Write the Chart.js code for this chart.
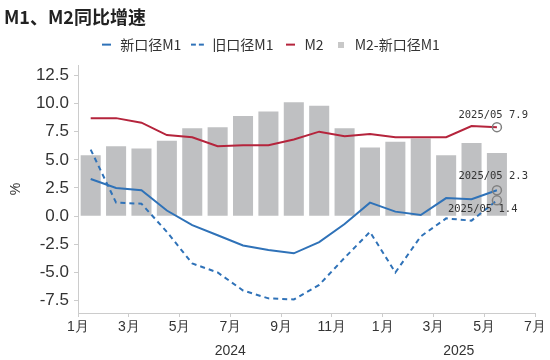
<!DOCTYPE html>
<html><head><meta charset="utf-8">
<script src="https://cdn.jsdelivr.net/npm/chart.js@4.4.0/dist/chart.umd.min.js"></script>
<style>html,body{margin:0;padding:0;background:#fff}#wrap{width:550px;height:360px}</style>
</head><body><div id="wrap"><canvas id="c"></canvas></div>
<script>
const months = ["2024-01","2024-02","2024-03","2024-04","2024-05","2024-06","2024-07","2024-08","2024-09","2024-10","2024-11","2024-12","2025-01","2025-02","2025-03","2025-04","2025-05"];
const newM1 = [3.3,2.5,2.3,0.5,-0.8,-1.7,-2.6,-3.0,-3.3,-2.3,-0.7,1.2,0.4,0.1,1.6,1.5,2.3];
const oldM1 = [5.9,1.2,1.1,-1.4,-4.2,-5.0,-6.6,-7.3,-7.4,-6.1,-3.7,-1.4,-5.0,-1.8,-0.2,-0.4,1.4];
const m2 = [8.7,8.7,8.3,7.2,7.0,6.2,6.3,6.3,6.8,7.5,7.1,7.3,7.0,7.0,7.0,8.0,7.9];
const spread = [5.4,6.2,6.0,6.7,7.8,7.9,8.9,9.3,10.1,9.8,7.8,6.1,6.6,6.9,5.4,6.5,5.6];
const xTickLabels = ["1月","3月","5月","7月","9月","11月","1月","3月","5月","7月"];
const yTickValues = [-7.5,-5.0,-2.5,0.0,2.5,5.0,7.5,10.0,12.5];
const years = [{text:"2024", from:"2024-01", to:"2025-01"},{text:"2025", from:"2025-01", to:"2025-07"}];
const annoText = {m2:"2025/05 7.9", newM1:"2025/05 2.3", oldM1:"2025/05 1.4"};

const BLUE = '#2f72b8', RED = '#b5243c', GRAY = '#bfc0c2';
const monthIndex = m => { const [y, mo] = m.split('-').map(Number); return (y - 2024) * 12 + (mo - 1); };
const pts = arr => arr.map((v, i) => ({x: monthIndex(months[i]) + 0.5, y: v}));
const last = arr => (ctx) => ctx.dataIndex === arr.length - 1 ? 4.5 : 0;

function icon(kind, color) {
  const c = document.createElement('canvas');
  if (kind === 'rect') { c.width = 6; c.height = 6; const g = c.getContext('2d'); g.fillStyle = color; g.fillRect(0,0,6,6); return c; }
  c.width = kind === 'dash' ? 15 : 9; c.height = 4;
  const g = c.getContext('2d'); g.strokeStyle = color; g.lineWidth = 2;
  if (kind === 'dash') g.setLineDash([5,3]);
  g.beginPath(); g.moveTo(0,2); g.lineTo(c.width,2); g.stroke();
  return c;
}

const annoPlugin = {
  id: 'anno',
  afterDatasetsDraw(chart) {
    const g = chart.ctx;
    g.save();
    g.font = '10.5px "DejaVu Sans Mono"';
    g.fillStyle = '#333';
    g.textBaseline = 'middle';
    chart.data.datasets.forEach((ds, di) => {
      if (!ds.anno) return;
      const meta = chart.getDatasetMeta(di);
      const el = meta.data[meta.data.length - 1];
      g.fillText(annoText[ds.anno], el.x + ds.annoDx, el.y + ds.annoDy);
    });
    const xs = chart.scales.x;
    g.font = '14px "Liberation Sans"';
    g.textAlign = 'center';
    g.fillStyle = '#333';
    years.forEach(y => {
      const a = xs.getPixelForValue(monthIndex(y.from)), b = xs.getPixelForValue(monthIndex(y.to));
      g.fillText(y.text, (a + b) / 2, 351);
    });
    g.restore();
  }
};

new Chart(document.getElementById('c'), {
  type: 'bar',
  data: {
    datasets: [
      {type:'line', label:'新口径M1', data: pts(newM1), borderColor: BLUE, borderWidth: 2, tension: 0,
       pointRadius: last(newM1), pointBorderColor: '#808080', pointBackgroundColor: 'rgba(0,0,0,0)', pointBorderWidth: 1.5,
       order: 1, anno: 'newM1', annoDx: -38.5, annoDy: -13.5},
      {type:'line', label:'旧口径M1', data: pts(oldM1), borderColor: BLUE, borderWidth: 2, borderDash: [5,4], tension: 0,
       pointRadius: last(oldM1), pointBorderColor: '#808080', pointBackgroundColor: 'rgba(0,0,0,0)', pointBorderWidth: 1.5,
       order: 1, anno: 'oldM1', annoDx: -49, annoDy: 8.5},
      {type:'line', label:'M2', data: pts(m2), borderColor: RED, borderWidth: 2, tension: 0,
       pointRadius: last(m2), pointBorderColor: '#808080', pointBackgroundColor: 'rgba(0,0,0,0)', pointBorderWidth: 1.5,
       order: 1, anno: 'm2', annoDx: -38.5, annoDy: -12},
      {type:'bar', label:'M2-新口径M1', data: pts(spread), backgroundColor: GRAY, borderWidth: 0,
       barPercentage: 1, categoryPercentage: 0.79, order: 2}
    ]
  },
  options: {
    responsive: true, maintainAspectRatio: false, animation: false,
    layout: {padding: {left: 4, right: 15, top: 0, bottom: 0}},
    plugins: {
      tooltip: {enabled: false},
      title: {display: true, text: 'M1、M2同比增速', align: 'start', color: '#222',
        font: {size: 18, weight: 'bold', family: '"Noto Sans CJK SC"'}, padding: {top: 6, bottom: 0}},
      subtitle: {display: true, text: ' ', weight: 500, font: {size: 3}, padding: {top: 0, bottom: 0}},
      legend: {
        display: true, position: 'top',
        labels: {
          color: '#333', font: {size: 14, family: '"Noto Sans CJK SC"'}, usePointStyle: true, padding: 10, boxHeight: 6,
          generateLabels: (chart) => [
            {text:'新口径M1', pointStyle: icon('line', BLUE), datasetIndex: 0, fontColor:'#333'},
            {text:'旧口径M1', pointStyle: icon('dash', BLUE), datasetIndex: 1, fontColor:'#333'},
            {text:'M2', pointStyle: icon('line', RED), datasetIndex: 2, fontColor:'#333'},
            {text:'M2-新口径M1', pointStyle: icon('rect', '#c8c8c8'), datasetIndex: 3, fontColor:'#333'}
          ]
        }
      }
    },
    scales: {
      x: {
        type: 'linear', min: 0, max: 18, offset: false,
        afterBuildTicks: s => { s.ticks = xTickLabels.map((_, i) => ({value: i * 2})); },
        afterFit: s => { s.height = 47; },
        ticks: {callback: (v, i) => xTickLabels[i], color: '#333', font: {size: 14, family: '"Liberation Sans"'}, padding: 2, maxRotation: 0, autoSkip: false},
        grid: {display: true, offset: false, drawOnChartArea: false, tickLength: 4, color: '#cccccc'},
        border: {color: '#cccccc'}
      },
      y: {
        min: -8.6, max: 13.4,
        afterBuildTicks: s => { s.ticks = yTickValues.map(v => ({value: v})); },
        afterFit: s => { s.width = 74; },
        ticks: {callback: v => Number(v).toFixed(1), color: '#333', font: {size: 17, family: '"Liberation Sans"'}, padding: 5},
        grid: {display: true, drawOnChartArea: false, tickLength: 4, color: '#cccccc'},
        border: {color: '#cccccc'},
        title: {display: true, text: '%', color: '#333', font: {size: 14, family: '"Liberation Sans"'}, padding: {top: 4, bottom: 0}}
      }
    }
  },
  plugins: [annoPlugin]
});
</script></body></html>
